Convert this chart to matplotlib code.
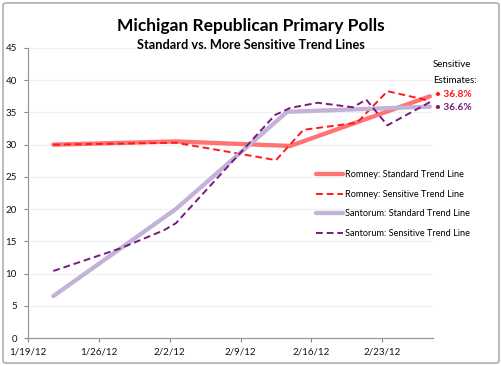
import matplotlib
matplotlib.use("Agg")
import matplotlib.pyplot as plt
from matplotlib.patches import FancyBboxPatch

plt.rcParams["font.family"] = ["Lato", "DejaVu Sans"]

# x values are days after 1/19/12
tick_days = [0, 7, 14, 21, 28, 35]
tick_labels = ["1/19/12", "1/26/12", "2/2/12", "2/9/12", "2/16/12", "2/23/12"]

romney_std_x = [2.5, 14.6, 25.9, 39.7]
romney_std_y = [30.0, 30.5, 29.8, 37.5]

romney_sens_x = [2.5, 14.6, 24.5, 27.2, 32.5, 35.5, 39.7]
romney_sens_y = [30.0, 30.3, 27.6, 32.3, 33.4, 38.3, 36.8]

santorum_std_x = [2.5, 14.6, 25.6, 39.7]
santorum_std_y = [6.5, 20.0, 35.1, 35.9]

santorum_sens_x = [2.5, 9.1, 13.4, 14.6, 24.4, 25.9, 28.6, 32.1, 33.4, 35.5, 39.7]
santorum_sens_y = [10.4, 13.9, 16.7, 17.8, 34.6, 35.7, 36.5, 35.8, 37.0, 33.0, 36.6]

fig = plt.figure(figsize=(5.02, 3.66), dpi=100)
ax = fig.add_axes([0.0558, 0.0765, 0.8067, 0.7924])

ax.plot(romney_std_x, romney_std_y, color="#FF7373", lw=3.1,
        solid_capstyle="round", label="Romney: Standard Trend Line")
ax.plot(romney_sens_x, romney_sens_y, color="#FF1A1A", lw=1.4,
        dashes=(3.5, 2), label="Romney: Sensitive Trend Line")
ax.plot(santorum_std_x, santorum_std_y, color="#C4B3D8", lw=3.1,
        solid_capstyle="round", label="Santorum: Standard Trend Line")
ax.plot(santorum_sens_x, santorum_sens_y, color="#7A1A7E", lw=1.4,
        dashes=(3.5, 2), label="Santorum: Sensitive Trend Line")

ax.set_xlim(0, 40)
ax.set_ylim(0, 45)
ax.set_yticks(range(0, 46, 5))
ax.set_xticks(tick_days)
ax.set_xticklabels(tick_labels)
ax.tick_params(labelsize=7, colors="#888888", length=3, width=0.8, labelcolor="#111111")
ax.tick_params(axis="y", pad=5)
ax.grid(axis="y", color="#F0F0F0", lw=0.9)
ax.set_axisbelow(True)
for s in ["top", "right"]:
    ax.spines[s].set_visible(False)
for s in ["left", "bottom"]:
    ax.spines[s].set_color("#999999")
    ax.spines[s].set_linewidth(0.9)

leg = ax.legend(loc="upper left", bbox_to_anchor=(0.711, 0.578), frameon=False,
                fontsize=6.6, handlelength=3.0, handletextpad=0.15,
                labelspacing=1.15, borderpad=0, borderaxespad=0)

fig.text(0.5, 0.93, "Michigan Republican Primary Polls", ha="center", va="center",
         fontsize=12.5, fontweight="bold")
fig.text(0.5, 0.878, "Standard vs. More Sensitive Trend Lines", ha="center",
         va="center", fontsize=9.2, fontweight="bold")

fig.text(0.862, 0.823, "Sensitive", fontsize=7, va="center")
fig.text(0.862, 0.781, "Estimates:", fontsize=7, va="center")
fig.text(0.866, 0.743, "\u2022 36.8%", fontsize=7.3, va="center", color="#FF1A1A",
         fontweight="bold")
fig.text(0.866, 0.705, "\u2022 36.6%", fontsize=7.3, va="center", color="#7A1A7E",
         fontweight="bold")

fig.patches.append(FancyBboxPatch((0.006, 0.008), 0.988, 0.984,
                                  boxstyle="round,pad=0,rounding_size=0.006",
                                  transform=fig.transFigure, fill=False,
                                  edgecolor="#B5B5B5", lw=1.3))

fig.savefig("out.png", dpi=100)
